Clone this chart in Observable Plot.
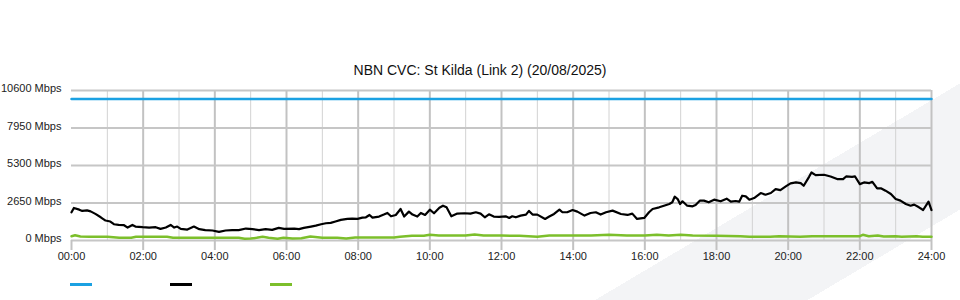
<!DOCTYPE html>
<html>
<head>
<meta charset="utf-8">
<script src="https://cdn.jsdelivr.net/npm/d3@7"></script>
<script src="https://cdn.jsdelivr.net/npm/@observablehq/plot@0.6"></script>
<style>
  html, body { margin: 0; padding: 0; background: #fff; }
  #wrap {
    position: relative; width: 960px; height: 300px; overflow: hidden;
    font-family: "Liberation Sans", Arial, sans-serif;
    background:
      linear-gradient(149.3deg, rgba(0,0,0,0) 75.1%, #f3f4f6 75.1%, #f3f4f6 89.6%, rgba(0,0,0,0) 89.6%);
  }
  #title {
    position: absolute; left: 0; top: 62px; width: 960px; text-align: center;
    font-size: 14px; color: #111;
  }
  #legend { position: absolute; left: 0; top: 283px; width: 960px; height: 6px; }
  #legend span { position: absolute; top: 0; width: 22px; height: 3px; }
  #chart { position: absolute; left: 0; top: 0; }
  #chart svg { background: transparent !important; }
</style>
</head>
<body>
<div id="wrap">
  <div id="chart"></div>
  <div id="title"></div>
  <div id="legend"></div>
</div>
<script>
const chartTitle = "NBN CVC: St Kilda (Link 2) (20/08/2025)";

const yTickValues = [0, 2650, 5300, 7950, 10600];
const xLabelHours = [0, 2, 4, 6, 8, 10, 12, 14, 16, 18, 20, 22, 24];
const xMinorHours = [1, 3, 5, 7, 9, 11, 13, 15, 17, 19, 21, 23];

const seriesNames = ["", "", ""];
const seriesColors = ["#1ba1e2", "#000000", "#7cbf2b"];

const capacityTimes = ["00:00", "24:00"];
const capacityValues = [10000, 10000];

const downTimes = [
  "00:00","00:04","00:13","00:18","00:26","00:32","00:40","00:49","00:57","01:05",
  "01:11","01:19","01:28","01:34","01:42","01:47","01:59","02:10","02:21","02:29",
  "02:38","02:46","02:52","02:57","03:03","03:14","03:25","03:34","03:44","03:56",
  "04:07","04:18","04:29","04:40","04:52","05:03","05:14","05:25","05:36","05:47",
  "05:56","06:13","06:21","06:29","06:41","06:49","06:58","07:06","07:14","07:22",
  "07:31","07:42","07:50","07:59","08:07","08:13","08:19","08:24","08:35","08:43",
  "08:49","08:55","09:03","09:11","09:17","09:25","09:31","09:39","09:45","09:52",
  "10:00","10:07","10:16","10:22","10:28","10:36","10:46","10:58","11:08","11:17",
  "11:25","11:32","11:39","11:47","11:56","12:07","12:13","12:18","12:24","12:32",
  "12:41","12:46","12:52","13:00","13:13","13:20","13:28","13:37","13:42","13:50",
  "13:59","14:07","14:19","14:29","14:38","14:46","14:55","15:06","15:20","15:31",
  "15:39","15:47","15:59","16:07","16:13","16:24","16:32","16:41","16:46","16:50",
  "16:55","16:59","17:03","17:11","17:20","17:25","17:32","17:39","17:47","17:56",
  "18:07","18:17","18:24","18:32","18:38","18:43","18:49","18:55","19:03","19:14",
  "19:22","19:31","19:39","19:47","19:56","20:04","20:13","20:21","20:26","20:35",
  "20:39","20:46","21:00","21:11","21:22","21:32","21:37","21:47","21:52","22:00",
  "22:07","22:16","22:21","22:29","22:36","22:43","22:52","23:00","23:08","23:17",
  "23:25","23:31","23:39","23:46","23:55","24:00"
];
const downValues = [
  1990,2300,2180,2090,2130,2060,1880,1640,1410,1340,
  1150,1100,1080,915,1100,985,940,915,940,820,
  915,1100,915,985,820,775,985,800,730,705,
  610,705,730,730,845,800,730,800,750,890,
  820,845,800,890,985,1055,1150,1220,1245,1340,
  1455,1525,1550,1525,1620,1640,1805,1620,1690,1830,
  1945,1710,1805,2230,1690,2040,1830,1690,1945,1805,
  2180,1925,2320,2460,2345,1710,1900,1925,1900,1995,
  1900,1640,1850,1690,1665,1710,1595,1710,1640,1760,
  1830,2090,1830,1830,1525,1690,1875,2180,1995,1995,
  2155,2040,1760,1945,1995,1830,1995,2110,1875,1805,
  1900,1525,1595,1995,2230,2345,2460,2580,2700,3095,
  2930,2580,2770,2460,2415,2510,2815,2815,2700,2885,
  2770,2955,2745,2790,2745,3165,3120,2885,3000,3355,
  3235,3355,3635,3565,3820,4035,4105,4055,3870,4500,
  4805,4620,4645,4525,4340,4340,4525,4500,4525,3985,
  4105,4055,4150,3680,3680,3520,3285,2930,2815,2580,
  2460,2535,2345,2155,2745,2155
];

const upTimes = [
  "00:00","00:06","00:15","00:30","01:00","01:20","01:40","01:48","02:00","02:40",
  "02:50","03:30","04:00","04:40","04:50","05:00","05:10","05:20","05:30","05:45",
  "05:55","06:10","06:25","06:40","07:00","07:25","07:40","07:55","08:30","09:00",
  "09:10","09:30","09:50","10:00","10:15","11:00","11:15","11:30","12:00","12:30",
  "13:00","13:20","14:00","14:30","15:00","15:30","16:00","16:20","16:40","17:00",
  "17:20","18:00","18:40","18:55","19:10","19:30","19:45","20:20","20:40","21:00",
  "21:30","22:00","22:05","22:15","22:30","22:40","23:00","23:10","23:35","23:45",
  "24:00"
];
const upValues = [
  300,370,280,258,258,190,190,258,258,258,
  190,190,190,190,120,140,190,258,190,120,
  190,140,160,280,190,190,140,210,210,210,
  258,330,330,400,350,350,420,350,350,330,
  260,350,350,350,400,350,350,400,350,400,
  350,330,305,258,258,258,305,258,305,305,
  305,305,400,305,350,280,305,258,305,258,
  258
];

const toHours = s => { const [h, m] = s.split(":").map(Number); return h + m / 60; };
const makeSeries = (times, values, name) => times.map((t, i) => ({hour: toHours(t), value: values[i], series: name}));

const capacity = makeSeries(capacityTimes, capacityValues, "capacity");
const down = makeSeries(downTimes, downValues, "down");
const up = makeSeries(upTimes, upValues, "up");

const pad = n => String(n).padStart(2, "0");

const chart = Plot.plot({
  width: 960,
  height: 300,
  marginTop: 90,
  marginBottom: 60,
  marginLeft: 71,
  marginRight: 29,
  style: {background: "transparent", fontFamily: "'Liberation Sans', Arial, sans-serif", fontSize: "11px", color: "#222"},
  x: {type: "linear", domain: [0, 24]},
  y: {domain: [0, 10600]},
  marks: [
    Plot.ruleX(xMinorHours, {stroke: "#d2d2d2", strokeWidth: 1}),
    Plot.ruleX(xLabelHours.filter(h => h > 0), {stroke: "#c2c2c2", strokeWidth: 2}),
    Plot.ruleY(yTickValues, {stroke: "#c6c6c6", strokeWidth: 2}),
    Plot.axisX({ticks: xLabelHours, tickSize: 10, tickPadding: 2, stroke: "#c2c2c2", strokeWidth: 2, fill: "#222",
      tickFormat: h => pad(h) + ":00", fontSize: 11, label: null}),
    Plot.axisY({ticks: yTickValues, tickSize: 0, tickPadding: 10, dy: -2, fill: "#222",
      tickFormat: d => d + " Mbps", fontSize: 11, label: null}),
    Plot.line(capacity, {x: "hour", y: "value", stroke: seriesColors[0], strokeWidth: 2.5}),
    Plot.line(up, {x: "hour", y: "value", stroke: seriesColors[2], strokeWidth: 2.5}),
    Plot.line(down, {x: "hour", y: "value", stroke: seriesColors[1], strokeWidth: 2.2})
  ]
});
document.getElementById("chart").appendChild(chart);
document.getElementById("title").textContent = chartTitle;

const legend = document.getElementById("legend");
seriesColors.forEach((c, i) => {
  const s = document.createElement("span");
  s.style.left = (70 + i * 100) + "px";
  s.style.background = c;
  s.title = seriesNames[i];
  legend.appendChild(s);
});
</script>
</body>
</html>
